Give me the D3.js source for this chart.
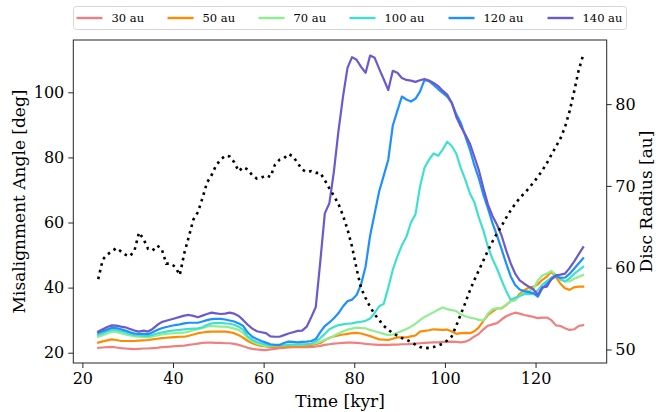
<!DOCTYPE html>
<html>
<head>
<meta charset="utf-8">
<script src="https://cdn.jsdelivr.net/npm/d3@7"></script>
<style>
  body { margin: 0; background: #fff; }
  svg text { font-family: "DejaVu Serif", serif; fill: #000; }
</style>
</head>
<body>
<svg id="chart" width="656" height="412"></svg>
<script>
// Time samples [kyr]
const times = [
  23.5, 24.5, 25.5, 26.5, 27.5, 28.5, 29.5, 30.5, 31.5, 32.5,
  33.5, 34.5, 35.5, 36.5, 37.5, 38.5, 39.5, 40.5, 41.5, 42.5,
  43.5, 44.5, 45.5, 46.5, 47.5, 48.5, 49.5, 50.5, 51.5, 52.5,
  53.5, 54.5, 55.5, 56.5, 57.5, 58.5, 59.5, 60.5, 61.5, 62.5,
  63.5, 64.5, 65.5, 66.5, 67.5, 68.5, 69.5, 70.5, 71.5, 72.5,
  73.5, 74.5, 75.5, 76.5, 77.5, 78.5, 79.5, 80.5, 81.5, 82.5,
  83.5, 84.5, 85.5, 86.5, 87.5, 88.5, 89.5, 90.5, 91.5, 92.5,
  93.5, 94.5, 95.5, 96.5, 97.5, 98.5, 99.5, 100.5, 101.5, 102.5,
  103.5, 104.5, 105.5, 106.5, 107.5, 108.5, 109.5, 110.5, 111.5, 112.5,
  113.5, 114.5, 115.5, 116.5, 117.5, 118.5, 119.5, 120.5, 121.5, 122.5,
  123.5, 124.5, 125.5, 126.5, 127.5, 128.5, 129.5, 130.5
];

// Misalignment angle [deg] measured at each radius
const angle30 = [
  21.5, 21.6, 21.7, 21.8, 21.6, 21.4, 21.3, 21.2, 21.1, 21.2,
  21.3, 21.3, 21.4, 21.5, 21.7, 21.8, 21.9, 22.0, 22.1, 22.2,
  22.4, 22.6, 22.8, 23.0, 23.1, 23.1, 23.0, 23.0, 22.9, 22.9,
  22.7, 22.4, 22.0, 21.5, 21.2, 21.0, 20.9, 20.8, 21.0, 21.2,
  21.4, 21.5, 21.6, 21.7, 21.7, 21.7, 21.7, 21.8, 21.9, 22.1,
  22.4, 22.6, 22.8, 22.9, 23.0, 23.1, 23.1, 23.0, 22.9, 22.7,
  22.6, 22.5, 22.4, 22.4, 22.4, 22.5, 22.5, 22.6, 22.6, 22.7,
  22.8, 22.9, 23.0, 23.1, 23.2, 23.2, 23.3, 23.3, 23.4, 23.3,
  23.2, 23.4, 24.0, 25.0, 25.8, 27.2, 28.3, 28.7, 29.1, 30.2,
  31.2, 31.8, 32.3, 32.0, 31.6, 31.3, 31.0, 30.6, 30.8, 30.8,
  30.0, 28.4, 28.2, 27.5, 27.0, 27.2, 28.2, 28.5
];
const angle50 = [
  23.1, 23.5, 23.8, 24.1, 23.9, 23.6, 23.6, 23.6, 23.6, 23.7,
  23.8, 23.9, 24.1, 24.3, 24.5, 24.6, 24.7, 24.8, 24.9, 24.9,
  25.2, 25.6, 26.0, 26.2, 26.4, 26.5, 26.5, 26.5, 26.5, 26.3,
  26.0, 25.4, 24.6, 23.6, 22.9, 22.4, 22.1, 21.9, 21.8, 21.8,
  21.9, 21.9, 21.9, 22.0, 22.0, 22.1, 22.2, 22.3, 22.6, 23.0,
  23.8, 24.6, 25.0, 25.3, 25.6, 25.8, 26.0, 26.1, 25.9, 25.5,
  25.1, 24.6, 24.1, 24.0, 23.9, 24.3, 24.7, 24.7, 24.7, 25.0,
  25.3, 26.5, 26.7, 26.9, 27.2, 27.1, 27.0, 27.1, 26.5, 25.8,
  26.0, 26.1, 26.0, 26.6, 27.8, 29.8, 31.6, 32.6, 33.6, 33.6,
  34.6, 35.9, 36.3, 38.1, 39.2, 40.0, 40.2, 41.0, 42.4, 43.4,
  44.9, 43.2, 41.2, 39.8, 39.3, 40.1, 40.3, 40.3
];
const angle70 = [
  24.9, 25.4, 25.9, 26.4, 26.4, 26.0, 25.6, 25.3, 25.0, 24.9,
  24.8, 24.7, 25.0, 25.3, 25.6, 25.8, 25.9, 26.0, 26.1, 26.2,
  26.5, 26.9, 27.2, 27.6, 28.0, 28.2, 28.1, 28.0, 28.0, 27.8,
  27.4, 27.0, 26.0, 24.5, 23.5, 22.8, 22.4, 22.1, 22.0, 22.2,
  22.3, 22.3, 22.4, 22.4, 22.4, 22.5, 22.6, 22.7, 22.9, 23.4,
  24.0, 24.4, 25.2, 25.9, 26.5, 27.1, 27.4, 27.7, 27.6, 27.5,
  27.0, 26.6, 26.2, 25.8, 25.4, 25.6, 26.1, 26.7, 27.3, 28.0,
  28.9, 30.0, 31.0, 31.7, 32.4, 33.2, 33.9, 33.4, 33.1, 32.8,
  31.8, 31.2, 30.8, 30.5, 30.1, 29.9, 32.0, 33.3, 33.7, 33.8,
  34.8, 35.8, 36.1, 37.5, 38.6, 39.0, 39.6, 42.2, 43.7, 44.3,
  45.1, 43.9, 42.5, 42.0, 41.9, 42.7, 43.3, 43.9
];
const angle100 = [
  25.5, 26.0, 26.6, 27.0, 27.0, 26.6, 26.2, 25.8, 25.4, 25.3,
  25.2, 25.1, 25.5, 25.9, 26.2, 26.5, 26.7, 26.9, 27.0, 27.2,
  27.3, 27.4, 27.5, 27.8, 28.5, 29.0, 29.1, 29.2, 29.0, 28.9,
  28.6, 28.0, 27.0, 25.0, 24.0, 23.3, 22.9, 22.5, 22.2, 22.3,
  22.3, 22.3, 22.4, 22.5, 22.5, 22.6, 22.6, 22.8, 23.5, 24.5,
  25.8, 27.2, 27.9, 28.5, 28.7, 28.9, 29.0, 29.3, 29.5, 29.8,
  30.5, 32.2, 34.3, 35.0, 40.0, 45.5, 49.5, 53.0, 55.6, 60.0,
  62.5, 71.0, 76.8, 79.3, 81.2, 80.5, 82.4, 84.8, 83.5, 81.2,
  76.8, 73.2, 69.0, 66.2, 61.5, 57.5, 52.5, 48.8, 45.8, 42.3,
  39.0, 36.3, 36.9, 37.4, 38.0, 38.0, 38.0, 39.2, 40.9, 42.0,
  43.1, 43.9, 42.6, 41.9, 42.8, 44.2, 45.3, 46.4
];
const angle120 = [
  26.1, 26.6, 27.1, 27.7, 27.6, 27.2, 26.8, 26.3, 25.9, 25.8,
  25.8, 25.7, 26.3, 27.0, 27.5, 27.9, 28.2, 28.5, 28.7, 29.0,
  29.2, 29.2, 29.2, 29.6, 30.0, 30.3, 30.4, 30.4, 30.2, 29.9,
  29.6, 29.0, 28.2, 26.2, 24.9, 24.2, 23.6, 23.1, 22.6, 22.4,
  22.4, 23.0, 23.4, 23.3, 23.2, 23.3, 23.4, 23.6, 24.2, 26.3,
  28.2, 29.3, 30.6, 32.1, 34.2, 35.8, 36.3, 37.7, 41.0, 46.5,
  56.0, 62.8, 69.6, 74.4, 79.3, 89.8, 94.3, 98.7, 97.8, 97.2,
  98.0, 100.2, 103.8, 103.4, 102.3, 101.0, 99.8, 98.7, 96.8, 93.3,
  90.6, 86.5, 82.5, 77.6, 73.5, 68.5, 64.3, 59.8, 56.0, 51.8,
  47.5, 43.5, 40.8, 39.4, 38.9, 38.6, 38.3, 37.2, 39.8, 41.2,
  42.5, 43.5, 43.0, 43.1, 44.2, 45.8, 47.4, 49.0
];
const angle140 = [
  26.5, 27.2, 27.9, 28.4, 28.3, 28.0, 27.8, 27.3, 26.8, 26.5,
  26.8, 26.5, 27.3, 28.5, 29.4, 29.8, 30.2, 30.6, 31.0, 31.4,
  31.6, 31.3, 30.9, 31.4, 31.9, 32.3, 32.1, 31.9, 32.0, 32.3,
  32.0, 31.3, 30.0, 28.6, 27.4, 26.6, 26.3, 26.0, 25.0, 24.9,
  24.9, 25.4, 25.9, 26.3, 26.7, 26.8, 28.0, 30.9, 34.0, 48.0,
  62.8, 65.9, 75.6, 88.0, 98.5, 107.5, 110.8, 110.0, 107.8, 106.0,
  111.3, 110.6, 107.2, 104.0, 100.7, 106.6, 106.0, 104.4, 103.8, 103.6,
  103.2, 103.7, 104.1, 103.6, 102.9, 101.9, 100.5, 99.3, 96.8, 92.5,
  89.5, 87.0, 84.3, 80.2, 76.0, 70.5, 65.5, 62.0, 59.3, 56.0,
  51.5, 47.5, 44.3, 42.2, 41.2, 40.3, 39.5, 37.8, 40.1, 40.3,
  42.7, 43.8, 44.0, 44.3, 46.0, 48.0, 50.2, 52.4
];

// Disc radius [au]
const discRadius = [
  58.6, 61.0, 61.6, 62.0, 62.4, 62.0, 61.6, 61.4, 62.1, 64.3,
  63.5, 62.3, 62.1, 62.7, 62.3, 60.5, 60.5, 60.1, 59.1, 61.8,
  63.8, 65.9, 66.8, 68.5, 70.4, 71.3, 72.5, 73.2, 73.7, 73.6,
  72.9, 71.8, 72.3, 72.0, 71.3, 70.9, 71.0, 71.3, 71.1, 72.6,
  73.2, 73.4, 73.9, 73.6, 72.8, 72.0, 71.7, 71.8, 71.6, 71.6,
  70.7, 69.7, 68.8, 67.8, 66.4, 64.7, 62.6, 59.9, 57.5, 56.3,
  55.2, 54.3, 53.6, 52.9, 52.4, 52.0, 51.7, 51.4, 51.2, 50.9,
  50.6, 50.3, 50.15, 50.2, 50.3, 50.5, 50.7, 51.1, 51.6, 52.9,
  54.3, 55.7, 57.2, 58.5, 59.7, 60.9, 62.1, 63.2, 64.2, 65.1,
  66.1, 67.0, 67.8, 68.5, 69.1, 69.7, 70.4, 71.1, 71.9, 72.8,
  73.8, 74.8, 75.8, 77.2, 79.1, 81.5, 84.1, 86.0
];

const seriesLabels = ["30 au", "50 au", "70 au", "100 au", "120 au", "140 au"];
const seriesValues = [angle30, angle50, angle70, angle100, angle120, angle140];
const seriesColors = ["#f08080", "#ff8c00", "#90ee90", "#40e0d0", "#1e90ff", "#6a5acd"];

const timeTicks = [20, 40, 60, 80, 100, 120];
const angleTicks = [20, 40, 60, 80, 100];
const radiusTicks = [50, 60, 70, 80];

// Plot frame
const L = 73.3, R = 606.7, T = 40, B = 363;

const svg = d3.select("#chart");

const x = d3.scaleLinear().domain([18.0, 135.7]).range([L, R]);
const yAngle = d3.scaleLinear().domain([16.84, 116.07]).range([B, T]);
const yRadius = d3.scaleLinear().domain([48.35, 87.84]).range([B, T]);

// Coloured misalignment curves
const angleLine = d3.line()
  .x((d, i) => x(times[i]))
  .y(d => yAngle(d));

const plot = svg.append("g");
seriesValues.forEach((vals, k) => {
  plot.append("path")
    .datum(vals)
    .attr("d", angleLine)
    .attr("fill", "none")
    .attr("stroke", seriesColors[k])
    .attr("stroke-width", 2.2)
    .attr("stroke-linejoin", "round")
    .attr("stroke-linecap", "square");
});

// Disc radius on the twin axis (dotted)
const radiusLine = d3.line()
  .x((d, i) => x(times[i]))
  .y(d => yRadius(d));

plot.append("path")
  .datum(discRadius)
  .attr("d", radiusLine)
  .attr("fill", "none")
  .attr("stroke", "#000")
  .attr("stroke-width", 2.6)
  .attr("stroke-dasharray", "2.6,4.3");

// Frame
svg.append("rect")
  .attr("x", L).attr("y", T)
  .attr("width", R - L).attr("height", B - T)
  .attr("fill", "none")
  .attr("stroke", "#262626")
  .attr("stroke-width", 1);

function styleAxis(g) {
  g.select(".domain").remove();
  g.selectAll(".tick line").attr("stroke", "#262626").attr("stroke-width", 1);
  g.selectAll(".tick text")
    .attr("font-family", "DejaVu Serif, serif")
    .attr("font-size", 16)
    .attr("fill", "#000");
}

svg.append("g")
  .attr("transform", `translate(0,${B})`)
  .call(d3.axisBottom(x).tickValues(timeTicks).tickSize(5).tickPadding(5).tickFormat(d3.format("d")))
  .call(styleAxis);

svg.append("g")
  .attr("transform", `translate(${L},0)`)
  .call(d3.axisLeft(yAngle).tickValues(angleTicks).tickSize(5).tickPadding(4).tickFormat(d3.format("d")))
  .call(styleAxis);

svg.append("g")
  .attr("transform", `translate(${R},0)`)
  .call(d3.axisRight(yRadius).tickValues(radiusTicks).tickSize(5).tickPadding(3.5).tickFormat(d3.format("d")))
  .call(styleAxis);

// Axis titles
svg.append("text")
  .attr("x", (L + R) / 2).attr("y", 407)
  .attr("text-anchor", "middle")
  .attr("font-size", 17)
  .text("Time [kyr]");

svg.append("text")
  .attr("transform", `translate(24.5,${(T + B) / 2}) rotate(-90)`)
  .attr("text-anchor", "middle")
  .attr("font-size", 17)
  .text("Misalignment Angle [deg]");

svg.append("text")
  .attr("transform", `translate(652,${(T + B) / 2}) rotate(-90)`)
  .attr("text-anchor", "middle")
  .attr("font-size", 17)
  .text("Disc Radius [au]");

// Legend above the axes
const legend = svg.append("g");
legend.append("rect")
  .attr("x", 73.5).attr("y", 6.5)
  .attr("width", 553).attr("height", 23)
  .attr("rx", 3)
  .attr("fill", "#fff")
  .attr("stroke", "#d6d6d6")
  .attr("stroke-width", 1);

const legendLineX = [76.5, 167.5, 258.5, 349.5, 448.5, 547.5];
seriesLabels.forEach((lab, k) => {
  const g = legend.append("g").attr("transform", `translate(${legendLineX[k]},18)`);
  g.append("line")
    .attr("x1", 0).attr("x2", 26)
    .attr("stroke", seriesColors[k])
    .attr("stroke-width", 2.4);
  g.append("text")
    .attr("x", 35).attr("y", 4.2)
    .attr("font-size", 11.5)
    .text(lab);
});
</script>
</body>
</html>
